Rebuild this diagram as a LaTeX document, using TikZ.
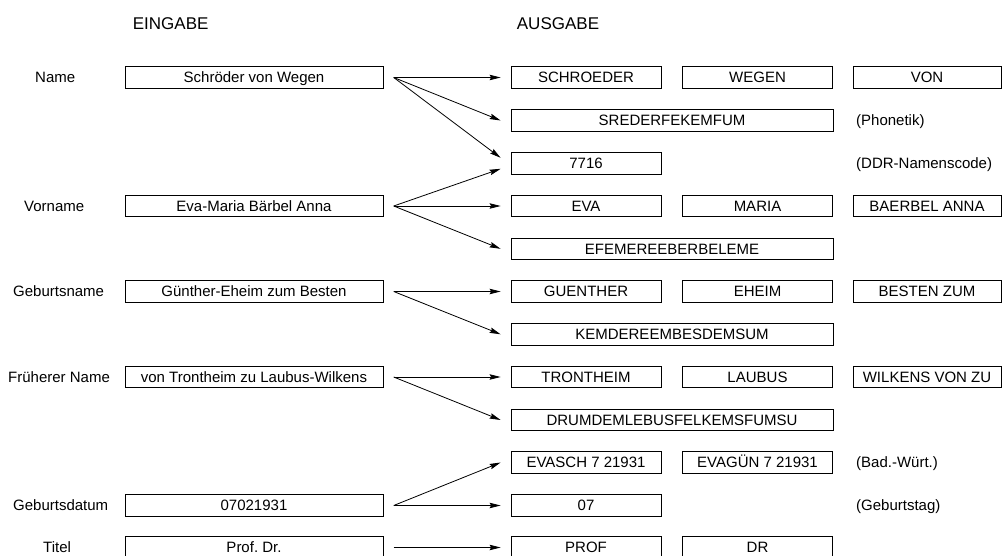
\documentclass[tikz,border=0pt]{standalone}
\usepackage{fontspec}
\setmainfont{Liberation Sans}
\usetikzlibrary{arrows.meta,calc}
\frenchspacing
\begin{document}
\begin{tikzpicture}[x=1pt,y=-1pt,
  txt/.style={inner sep=0pt,text height=10.7pt,text depth=0pt,font=\fontsize{15}{18}\selectfont},
  box/.style={txt,draw,line width=0.8pt,minimum height=21.5pt},
  inbox/.style={box,minimum width=258pt},
  cbox/.style={box,minimum width=150pt},
  c3box/.style={box,minimum width=148pt},
  wbox/.style={box,minimum width=322pt},
  lbl/.style={txt,anchor=west},
  head/.style={inner sep=0pt,anchor=base west,font=\fontsize{17}{20}\selectfont},
  arr/.style={line width=0.8pt,-{Stealth[length=11pt,width=5.5pt,inset=1.5pt]}}]
\clip (0,0) rectangle (1002,556);
\useasboundingbox (0,0) rectangle (1002,556);

% headers
\node[head] (hE) at (132.7,30) {EINGABE};
\node[head] (hA) at (516.7,30) {AUSGABE};

% left labels
\node[lbl] (l0) at (35,77.5) {Name};
\node[lbl] (l3) at (24,206) {Vorname};
\node[lbl] (l5) at (13,291.5) {Geburtsname};
\node[lbl] (l7) at (8,377) {Früherer Name};
\node[lbl] (l10) at (13,505.5) {Geburtsdatum};
\node[lbl] (l11) at (43,547.5) {Titel};

% input boxes
\node[inbox] (i0) at (254,77.5) {Schröder von Wegen};
\node[inbox] (i3) at (254,206) {Eva-Maria Bärbel Anna};
\node[inbox] (i5) at (254,291.5) {Günther-Eheim zum Besten};
\node[inbox] (i7) at (254,377) {von Trontheim zu Laubus-Wilkens};
\node[inbox] (i10) at (254,505.5) {07021931};
\node[inbox] (i11) at (254,547.5) {Prof. Dr.};

% output boxes
\node[cbox] (o0a) at (586,77.5) {SCHROEDER};
\node[cbox] (o0b) at (757.5,77.5) {WEGEN};
\node[c3box] (o0c) at (927,77.5) {VON};
\node[wbox] (w1) at (672,120.5) {SREDERFEKEMFUM};
\node[cbox] (o2a) at (586,163.3) {7716};
\node[cbox] (o3a) at (586,206) {EVA};
\node[cbox] (o3b) at (757.5,206) {MARIA};
\node[c3box] (o3c) at (927,206) {BAERBEL ANNA};
\node[wbox] (w4) at (672,248.8) {EFEMEREEBERBELEME};
\node[cbox] (o5a) at (586,291.5) {GUENTHER};
\node[cbox] (o5b) at (757.5,291.5) {EHEIM};
\node[c3box] (o5c) at (927,291.5) {BESTEN ZUM};
\node[wbox] (w6) at (672,334.3) {KEMDEREEMBESDEMSUM};
\node[cbox] (o7a) at (586,377) {TRONTHEIM};
\node[cbox] (o7b) at (757.5,377) {LAUBUS};
\node[c3box] (o7c) at (927,377) {WILKENS VON ZU};
\node[wbox] (w8) at (672,420) {DRUMDEMLEBUSFELKEMSFUMSU};
\node[cbox] (o9a) at (586,462.5) {EVASCH 7 21931};
\node[cbox] (o9b) at (757.5,462.5) {EVAGÜN 7 21931};
\node[cbox] (o10a) at (586,505.5) {07};
\node[cbox] (o11a) at (586,547.5) {PROF};
\node[cbox] (o11b) at (757.5,547.5) {DR};

% annotations
\node[lbl] (n1) at (856,120.5) {(Phonetik)};
\node[lbl] (n2) at (856,163.3) {(DDR-Namenscode)};
\node[lbl] (n9) at (856,462.5) {(Bad.-Würt.)};
\node[lbl] (n10) at (856,505.5) {(Geburtstag)};

% arrow start points
\coordinate (s0) at ($(i0.east)+(10.3,0)$);
\coordinate (s3) at ($(i3.east)+(10.3,0)$);
\coordinate (s5) at ($(i5.east)+(10.3,0)$);
\coordinate (s7) at ($(i7.east)+(10.3,0)$);
\coordinate (s10) at ($(i10.east)+(10.3,0)$);
\coordinate (s11) at ($(i11.east)+(10.3,0)$);

% arrows
\draw[arr] (s0) -- ([xshift=-10pt]o0a.west);
\draw[arr] (s0) -- ([xshift=-10pt]w1.west);
\draw[arr] (s0) -- ([xshift=-10pt,yshift=5.5pt]o2a.west);
\draw[arr] (s3) -- ([xshift=-10pt,yshift=-5.5pt]o2a.west);
\draw[arr] (s3) -- ([xshift=-10pt]o3a.west);
\draw[arr] (s3) -- ([xshift=-10pt]w4.west);
\draw[arr] (s5) -- ([xshift=-10pt]o5a.west);
\draw[arr] (s5) -- ([xshift=-10pt]w6.west);
\draw[arr] (s7) -- ([xshift=-10pt]o7a.west);
\draw[arr] (s7) -- ([xshift=-10pt]w8.west);
\draw[arr] (s10) -- ([xshift=-10pt]o9a.west);
\draw[arr] (s10) -- ([xshift=-10pt]o10a.west);
\draw[arr] (s11) -- ([xshift=-10pt]o11a.west);
\end{tikzpicture}
\end{document}
